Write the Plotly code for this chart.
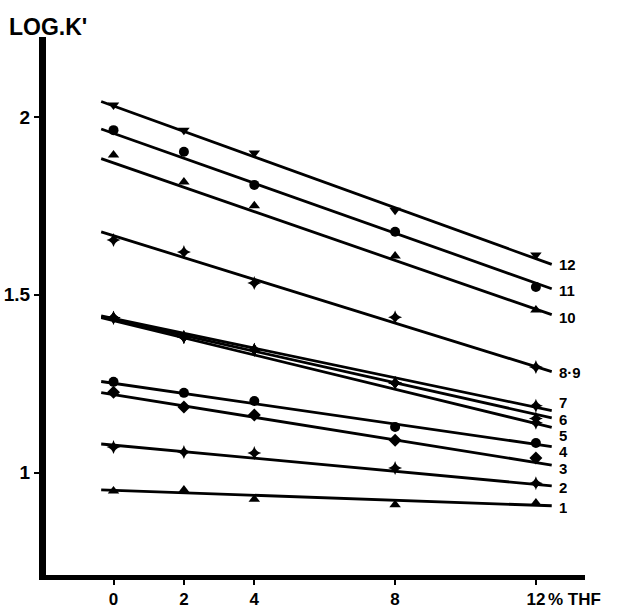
import plotly.graph_objects as go

# % THF in the mobile phase
thf_percent = [0, 2, 4, 8, 12]

# log k' measured for each solute (curve number -> values at thf_percent)
log_k_12 = [2.034, 1.963, 1.899, 1.738, 1.612]
log_k_11 = [1.963, 1.902, 1.809, 1.677, 1.522]
log_k_10 = [1.893, 1.817, 1.750, 1.609, 1.457]
log_k_8_9 = [1.654, 1.620, 1.533, 1.437, 1.297]
log_k_7 = [1.435, 1.381, 1.345, 1.252, 1.188]
log_k_6 = [1.435, 1.381, 1.345, 1.252, 1.152]
log_k_5 = [1.435, 1.381, 1.345, 1.252, 1.140]
log_k_4 = [1.255, 1.224, 1.201, 1.128, 1.083]
log_k_3 = [1.226, 1.184, 1.162, 1.091, 1.041]
log_k_2 = [1.072, 1.058, 1.055, 1.013, 0.970]
log_k_1 = [0.948, 0.951, 0.925, 0.909, 0.914]

curve_names = ["12", "11", "10", "8·9", "7", "6", "5", "4", "3", "2", "1"]
curve_values = [log_k_12, log_k_11, log_k_10, log_k_8_9, log_k_7, log_k_6,
                log_k_5, log_k_4, log_k_3, log_k_2, log_k_1]

# straight-line fits: log k' = intercept + slope * %THF
fit_intercept = [2.031, 1.954, 1.871, 1.666, 1.433, 1.430, 1.427, 1.251, 1.219, 1.077, 0.950]
fit_slope = [-0.0358, -0.0351, -0.0343, -0.0307, -0.0208, -0.0222, -0.0241,
             -0.0143, -0.0159, -0.0092, -0.0035]

# where each curve number is written, in log k' units
label_level = [1.584, 1.513, 1.435, 1.280, 1.196, 1.150, 1.105, 1.058, 1.012, 0.959, 0.902]

fit_x = [-0.35, 12.45]

symbols = ["triangle-down", "circle", "triangle-up", "star-diamond", "star-diamond",
           "star-diamond", "star-diamond", "circle", "diamond", "star-diamond", "triangle-up"]

ink = "#000000"
font_family = "Liberation Sans, Arial, sans-serif"

fig = go.Figure()

for name, vals, a, b, sym in zip(curve_names, curve_values, fit_intercept, fit_slope, symbols):
    fig.add_trace(go.Scatter(
        x=fit_x, y=[a + b * fx for fx in fit_x], mode="lines",
        line=dict(color=ink, width=2.8), hoverinfo="skip", showlegend=False))
    fig.add_trace(go.Scatter(
        x=thf_percent, y=vals, mode="markers", name=name,
        marker=dict(symbol=sym, size=10, color=ink, line=dict(width=0)),
        showlegend=False))

for name, lvl in zip(curve_names, label_level):
    fig.add_annotation(x=12.62, y=lvl, text="<b>%s</b>" % name, showarrow=False,
                       xanchor="left", yanchor="middle", height=15, borderpad=0,
                       font=dict(family=font_family, size=15, color=ink))

fig.add_annotation(x=12.3, y=-0.045, xref="x", yref="paper", text="<b>% THF</b>",
                   showarrow=False, xanchor="left", yanchor="middle",
                   font=dict(family=font_family, size=17, color=ink))

fig.add_annotation(x=-0.072, y=1.019, xref="paper", yref="paper", text="<b>LOG.K'</b>",
                   showarrow=False, xanchor="left", yanchor="middle",
                   font=dict(family=font_family, size=23, color=ink))

fig.update_xaxes(range=[-1.918, 13.395], showgrid=False, zeroline=False, automargin=False,
                 showline=True, linewidth=5, linecolor=ink,
                 tickvals=thf_percent, ticktext=["<b>%d</b>" % v for v in thf_percent],
                 ticks="outside", ticklen=5, tickwidth=2, tickcolor=ink,
                 tickfont=dict(family=font_family, size=17, color=ink))
fig.update_yaxes(range=[0.7117, 2.225], showgrid=False, zeroline=False, automargin=False,
                 showline=True, linewidth=7, linecolor=ink,
                 tickvals=[1, 1.5, 2], ticktext=["<b>1</b>", "<b>1.5</b>", "<b>2</b>"],
                 ticks="outside", ticklen=5, tickwidth=2, tickcolor=ink,
                 tickfont=dict(family=font_family, size=19, color=ink))

fig.update_layout(width=618, height=610, margin=dict(l=46, r=33, t=37, b=35),
                  paper_bgcolor="white", plot_bgcolor="white")

fig.write_html("out.html")
